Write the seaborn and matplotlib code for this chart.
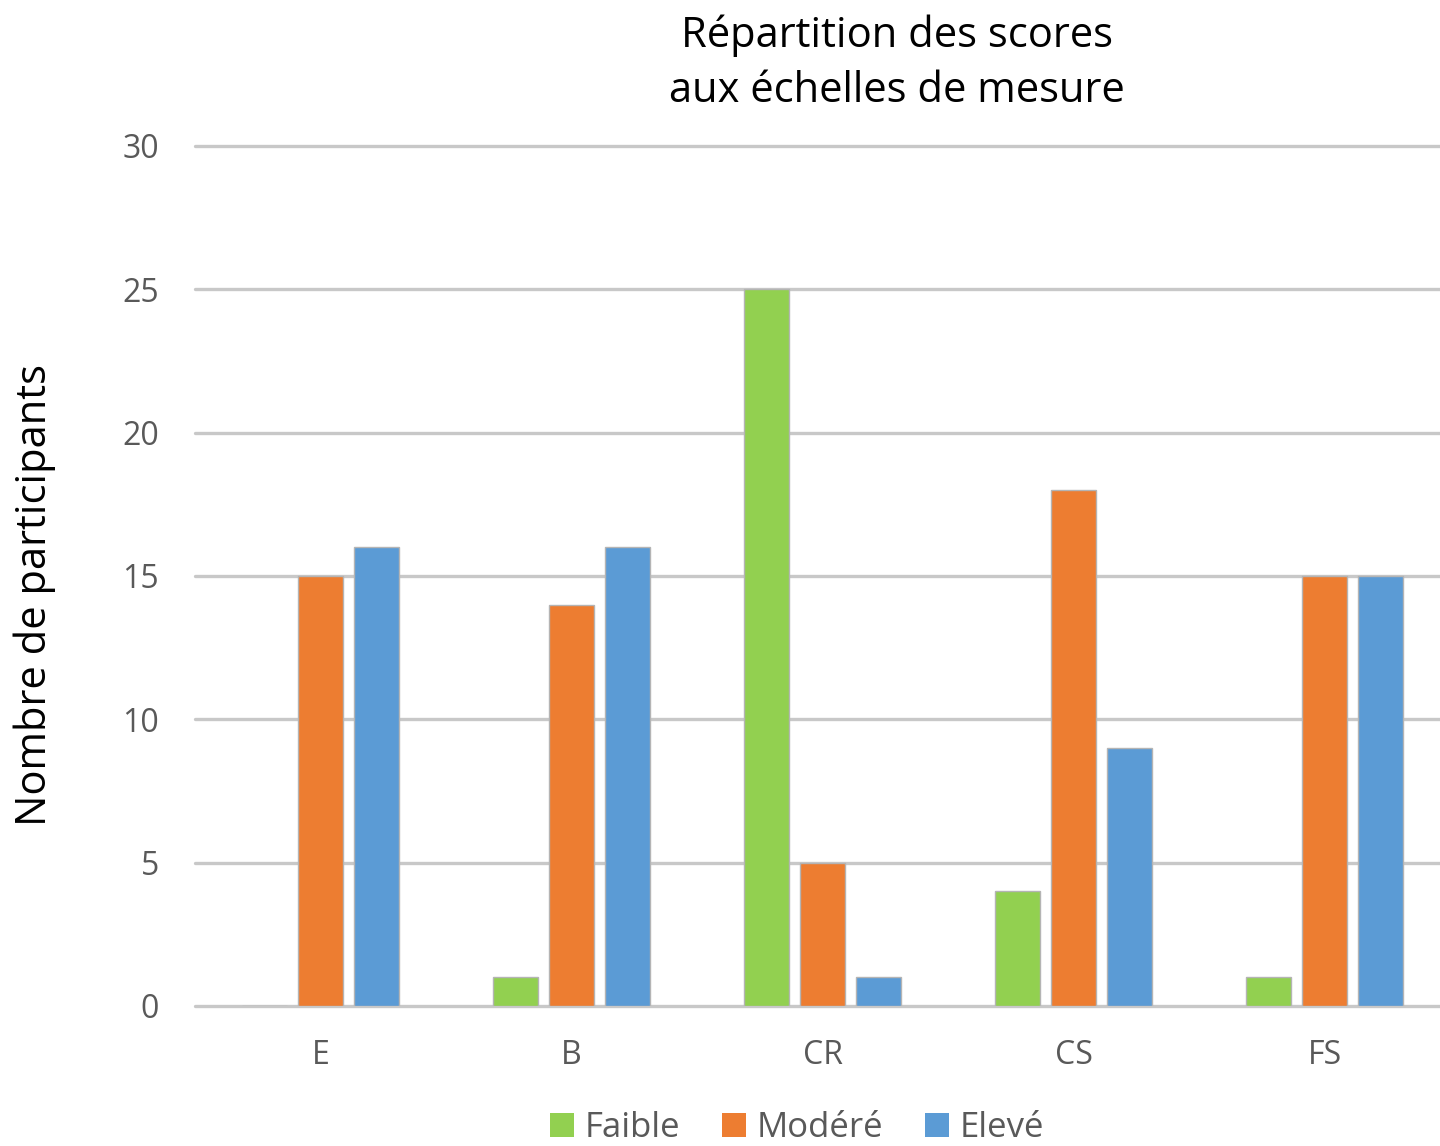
import pandas as pd
import seaborn as sns
import matplotlib.pyplot as plt

## data
echelles = ["E", "B", "CR", "CS", "FS"]
niveaux = ["Faible", "Modéré", "Elevé"]
faible = [0, 1, 25, 4, 1]
modere = [15, 14, 5, 18, 15]
eleve = [16, 16, 1, 9, 15]
couleurs = ["#92D050", "#ED7D31", "#5B9BD5"]

df = pd.DataFrame({
    "echelle": echelles * 3,
    "niveau": [niveaux[0]] * 5 + [niveaux[1]] * 5 + [niveaux[2]] * 5,
    "n": faible + modere + eleve,
})

sns.set_theme(style="white")
plt.rcParams["font.family"] = ["Open Sans", "DejaVu Sans"]

fig = plt.figure(figsize=(14.4, 11.46), dpi=100)
ax = fig.add_axes([195 / 1440, 140 / 1146, 1 - 195 / 1440, 860 / 1146])

sns.barplot(data=df, x="echelle", y="n", hue="niveau", order=echelles,
            hue_order=niveaux, palette=couleurs, saturation=1, width=0.67, gap=0.21,
            edgecolor="#b4b4b4", linewidth=1, ax=ax, legend=False)

ax.set_ylim(0, 30)
ax.set_xlim(-0.5, 4.46)
ax.set_yticks(range(0, 31, 5))
ax.yaxis.grid(True, color="#c8c8c8", linewidth=2.4)
for gl in ax.get_ygridlines():
    gl.set_clip_on(False)
ax.set_axisbelow(True)
for s in ax.spines.values():
    s.set_visible(False)
ax.tick_params(axis="both", length=0, labelsize=23, labelcolor="#595959")
ax.tick_params(axis="y", pad=26)
ax.tick_params(axis="x", pad=24)
ax.set_xlabel("")
ax.set_ylabel("")

fig.text(35 / 1440, 1 - 595 / 1146, "Nombre de participants", rotation=90,
         ha="center", va="center", fontsize=30, color="black")
fig.text(897 / 1440, 1 - 63 / 1146, "Répartition des scores\naux échelles de mesure",
         ha="center", va="center", fontsize=30, color="black", linespacing=1.4)

handles = [plt.Rectangle((0, 0), 1, 1, facecolor=c, edgecolor="none") for c in couleurs]
fig.legend(handles, niveaux, loc="center", bbox_to_anchor=(797 / 1440, 1 - 1128 / 1146),
           ncol=3, frameon=False, fontsize=25, labelcolor="#595959",
           handlelength=0.7, handleheight=0.7, handletextpad=0.3, columnspacing=1.2)

fig.savefig("out.png", dpi=100)
